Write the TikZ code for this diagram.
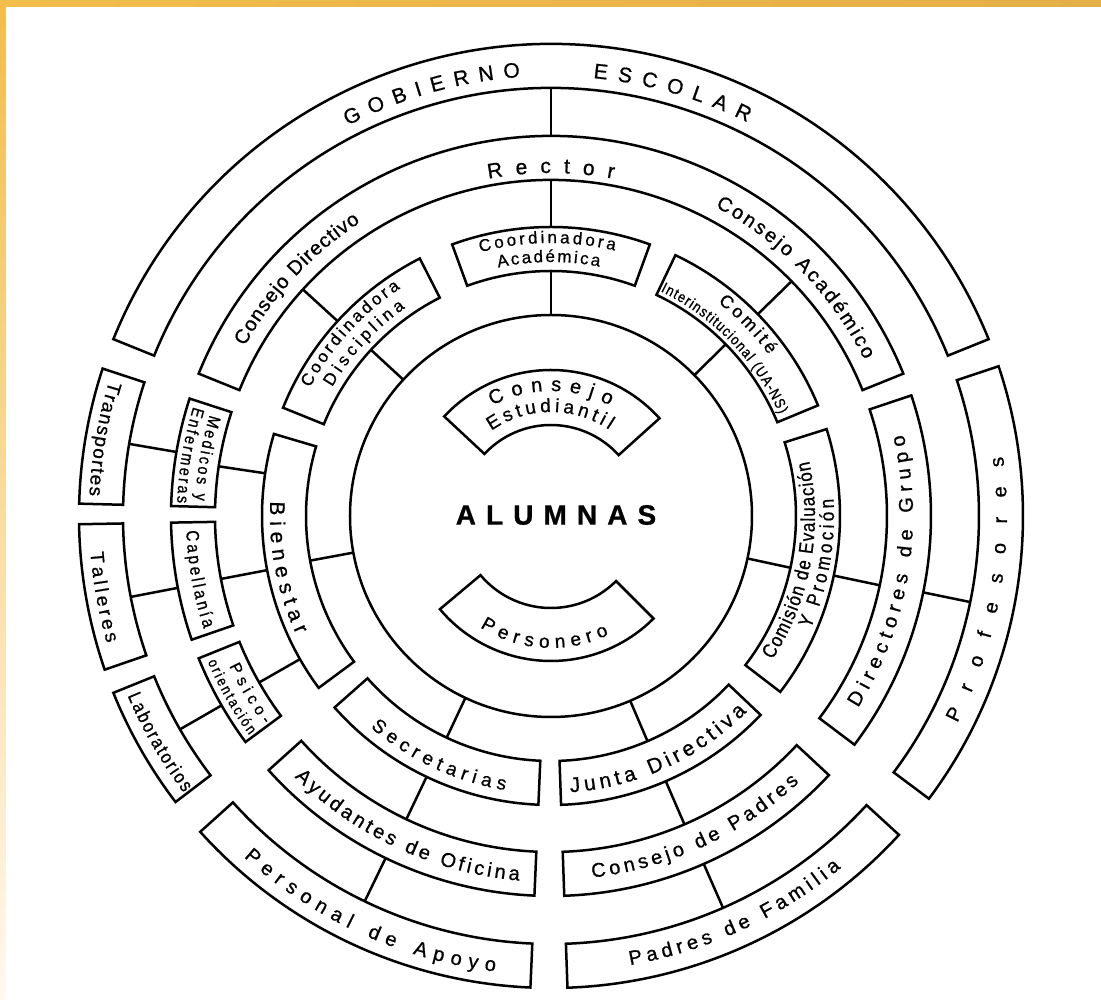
\documentclass[tikz,border=0pt]{standalone}
\usepackage{fontspec}
\setmainfont[FakeBold=0.8]{Liberation Sans}
\newfontfamily\narrowfont[FakeStretch=0.85, FakeBold=0.8]{Liberation Sans}
\usepackage{tikz}
\usetikzlibrary{decorations.text}

\definecolor{barorange}{HTML}{F2BD4B}
\definecolor{bardark}{HTML}{E3AF48}
\definecolor{barpale}{HTML}{FFF9F0}

\newcommand{\fsz}[1]{\fontsize{#1pt}{#1pt}\selectfont}
\newcommand{\nsz}[1]{\narrowfont\fontsize{#1pt}{#1pt}\selectfont}

\begin{document}
\begin{tikzpicture}[
    cell/.style={draw, line width=2.5pt, fill=white},
    link/.style={line width=2.5pt},
    arclabel/.style={decorate, decoration={text along path,
                     text align=fit to path, text={#1}}},
]
% page and frame
\fill[white] (-551pt,-484pt) rectangle (550pt,516pt);
\shade[top color=barorange, bottom color=barpale] (-551pt,-484pt) rectangle (-545pt,516pt);
\shade[left color=barorange, right color=bardark] (-551pt,509pt) rectangle (550pt,516pt);
\useasboundingbox (-551pt,-484pt) rectangle (550pt,516pt);

% connectors
\draw[link] (90:201pt) -- (90:245pt);
\draw[link] (90:289pt) -- (90:336pt);
\draw[link] (90:380pt) -- (90:428pt);
\draw[link] (137.3:201pt) -- (137.3:245pt);
\draw[link] (137.6:289pt) -- (137.6:336pt);
\draw[link] (44.5:201pt) -- (44.5:245pt);
\draw[link] (44.3:289pt) -- (44.3:336pt);
\draw[link] (171.5:289pt) -- (171.5:336pt);
\draw[link] (170.3:380pt) -- (170.3:428pt);
\draw[link] (190.5:201pt) -- (190.5:245pt);
\draw[link] (190.8:289pt) -- (190.8:336pt);
\draw[link] (190.9:380pt) -- (190.9:428pt);
\draw[link] (209.7:289pt) -- (209.7:336pt);
\draw[link] (209.9:380pt) -- (209.9:428pt);
\draw[link] (-12.2:201pt) -- (-12.2:245pt);
\draw[link] (-11.9:289pt) -- (-11.9:336pt);
\draw[link] (-11.6:380pt) -- (-11.6:428pt);
\draw[link] (244.8:201pt) -- (244.8:245pt);
\draw[link] (244.5:289pt) -- (244.5:336pt);
\draw[link] (244.2:380pt) -- (244.2:428pt);
\draw[link] (-66.8:201pt) -- (-66.8:245pt);
\draw[link] (-66.6:289pt) -- (-66.6:336pt);
\draw[link] (-66.3:380pt) -- (-66.3:428pt);

% centre
\draw[cell] (0,0) circle (201pt);
\draw[cell] (42:91pt) arc (42:137:91pt) -- (137:146pt) arc (137:42:146pt) -- cycle;
\draw[cell] (220:92pt) arc (220:315:92pt) -- (315:145pt) arc (315:220:145pt) -- cycle;
\node[font=\fsz{28}\bfseries] (alumnas) at (5pt,1pt) {\addfontfeature{LetterSpace=36}ALUMNAS};

% first ring
\draw[cell] (70:245pt) arc (70:110:245pt) -- (110:289pt) arc (110:70:289pt) -- cycle;
\draw[cell] (117:245pt) arc (117:158:245pt) -- (158:289pt) arc (158:117:289pt) -- cycle;
\draw[cell] (22.5:245pt) arc (22.5:64.5:245pt) -- (64.5:289pt) arc (64.5:22.5:289pt) -- cycle;
\draw[cell] (163.5:245pt) arc (163.5:216.5:245pt) -- (216.5:289pt) arc (216.5:163.5:289pt) -- cycle;
\draw[cell] (-37.5:245pt) arc (-37.5:17.5:245pt) -- (17.5:289pt) arc (17.5:-37.5:289pt) -- cycle;
\draw[cell] (221.5:245pt) arc (221.5:267.5:245pt) -- (267.5:289pt) arc (267.5:221.5:289pt) -- cycle;
\draw[cell] (272:245pt) arc (272:316.5:245pt) -- (316.5:289pt) arc (316.5:272:289pt) -- cycle;

% second ring
\draw[cell] (22:336pt) arc (22:158:336pt) -- (158:380pt) arc (158:22:380pt) -- cycle;
\draw[cell] (162:336pt) arc (162:178.5:336pt) -- (178.5:380pt) arc (178.5:162:380pt) -- cycle;
\draw[cell] (181:336pt) arc (181:199:336pt) -- (199:380pt) arc (199:181:380pt) -- cycle;
\draw[cell] (202:336pt) arc (202:216.5:336pt) -- (216.5:380pt) arc (216.5:202:380pt) -- cycle;
\draw[cell] (-37:336pt) arc (-37:18.5:336pt) -- (18.5:380pt) arc (18.5:-37:380pt) -- cycle;
\draw[cell] (222:336pt) arc (222:267.5:336pt) -- (267.5:380pt) arc (267.5:222:380pt) -- cycle;
\draw[cell] (272:336pt) arc (272:317:336pt) -- (317:380pt) arc (317:272:380pt) -- cycle;

% third ring
\draw[cell] (22:428pt) arc (22:158:428pt) -- (158:472pt) arc (158:22:472pt) -- cycle;
\draw[cell] (161.8:428pt) arc (161.8:178.5:428pt) -- (178.5:472pt) arc (178.5:161.8:472pt) -- cycle;
\draw[cell] (181:428pt) arc (181:199:428pt) -- (199:472pt) arc (199:181:472pt) -- cycle;
\draw[cell] (202:428pt) arc (202:217.3:428pt) -- (217.3:472pt) arc (217.3:202:472pt) -- cycle;
\draw[cell] (-36.8:428pt) arc (-36.8:18.5:428pt) -- (18.5:472pt) arc (18.5:-36.8:472pt) -- cycle;
\draw[cell] (222:428pt) arc (222:267.5:428pt) -- (267.5:472pt) arc (267.5:222:472pt) -- cycle;
\draw[cell] (272:428pt) arc (272:317.5:428pt) -- (317.5:472pt) arc (317.5:272:472pt) -- cycle;

% labels, upper half
\path[arclabel={|\fsz{21}|GOBIERNO}] (117.5:440pt) arc (117.5:94:440pt);
\path[arclabel={|\fsz{21}|ESCOLAR}] (84.5:440pt) arc (84.5:63.5:440pt);
\path[arclabel={|\fsz{21}|Rector}] (100.5:343pt) arc (100.5:79.5:343pt);
\path[arclabel={|\fsz{20}|Consejo Directivo}] (151:350pt) arc (151:123:350pt);
\path[arclabel={|\fsz{20}|Consejo Académico}] (62:350pt) arc (62:26.5:350pt);
\path[arclabel={|\fsz{17}|Coordinadora}] (105:273pt) arc (105:76.5:273pt);
\path[arclabel={|\fsz{17}|Académica}] (102:254pt) arc (102:79:254pt);
\path[arclabel={|\fsz{17}|Coordinadora}] (152:273pt) arc (152:123.5:273pt);
\path[arclabel={|\fsz{17}|Disciplina}] (149.5:254pt) arc (149.5:125:254pt);
\path[arclabel={|\fsz{18}|Comité}] (52:271pt) arc (52:36.5:271pt);
\path[arclabel={|\nsz{15}|Interinstitucional (UA-NS)}] (64:250pt) arc (64:24:250pt);
\path[arclabel={|\fsz{20}|Consejo}] (118:125pt) arc (118:62:125pt);
\path[arclabel={|\fsz{19}|Estudiantil}] (125:104pt) arc (125:56:104pt);

% labels, sides and lower half
\path[arclabel={|\fsz{19}|Personero}] (237.5:132pt) arc (237.5:296:132pt);
\path[arclabel={|\fsz{21}|Bienestar}] (177:281pt) arc (177:205:281pt);
\path[arclabel={|\nsz{20}|Comisión de Evaluación}] (-33:264pt) arc (-33:12:264pt);
\path[arclabel={|\nsz{20}|Y Promoción}] (-23.5:283pt) arc (-23.5:3.5:283pt);
\path[arclabel={|\fsz{19}|Secretarias}] (229.5:278pt) arc (229.5:260.5:278pt);
\path[arclabel={|\fsz{21}|Junta Directiva}] (274:277pt) arc (274:315:277pt);
\path[arclabel={|\fsz{20}|Ayudantes de Oficina}] (225.5:366pt) arc (225.5:265:366pt);
\path[arclabel={|\fsz{20}|Consejo de Padres}] (276.5:364pt) arc (276.5:313:364pt);
\path[arclabel={|\fsz{20}|Personal de Apoyo}] (228:459pt) arc (228:263:459pt);
\path[arclabel={|\fsz{20}|Padres de Familia}] (280:456pt) arc (280:309.5:456pt);
\path[arclabel={|\fsz{19}|Transportes}] (163:462pt) arc (163:177.5:462pt);
\path[arclabel={|\fsz{19}|Talleres}] (184.5:462pt) arc (184.5:196:462pt);
\path[arclabel={|\nsz{19}|Laboratorios}] (203:460pt) arc (203:217:460pt);
\path[arclabel={|\nsz{17}|Medicos y}] (163.5:356pt) arc (163.5:177.5:356pt);
\path[arclabel={|\nsz{17}|Enfermeras}] (163:374pt) arc (163:178:374pt);
\path[arclabel={|\nsz{18}|Capellanía}] (182.3:365pt) arc (182.3:198:365pt);
\path[arclabel={|\fsz{16}|Psico-}] (205:355pt) arc (205:216:355pt);
\path[arclabel={|\nsz{15}|orientación}] (203:373pt) arc (203:216:373pt);
\path[arclabel={|\fsz{20}|Directores de Grupo}] (-32:362pt) arc (-32:13:362pt);
\path[arclabel={|\fsz{20}|Profesores}] (-27:456pt) arc (-27:7.5:456pt);
\end{tikzpicture}
\end{document}
